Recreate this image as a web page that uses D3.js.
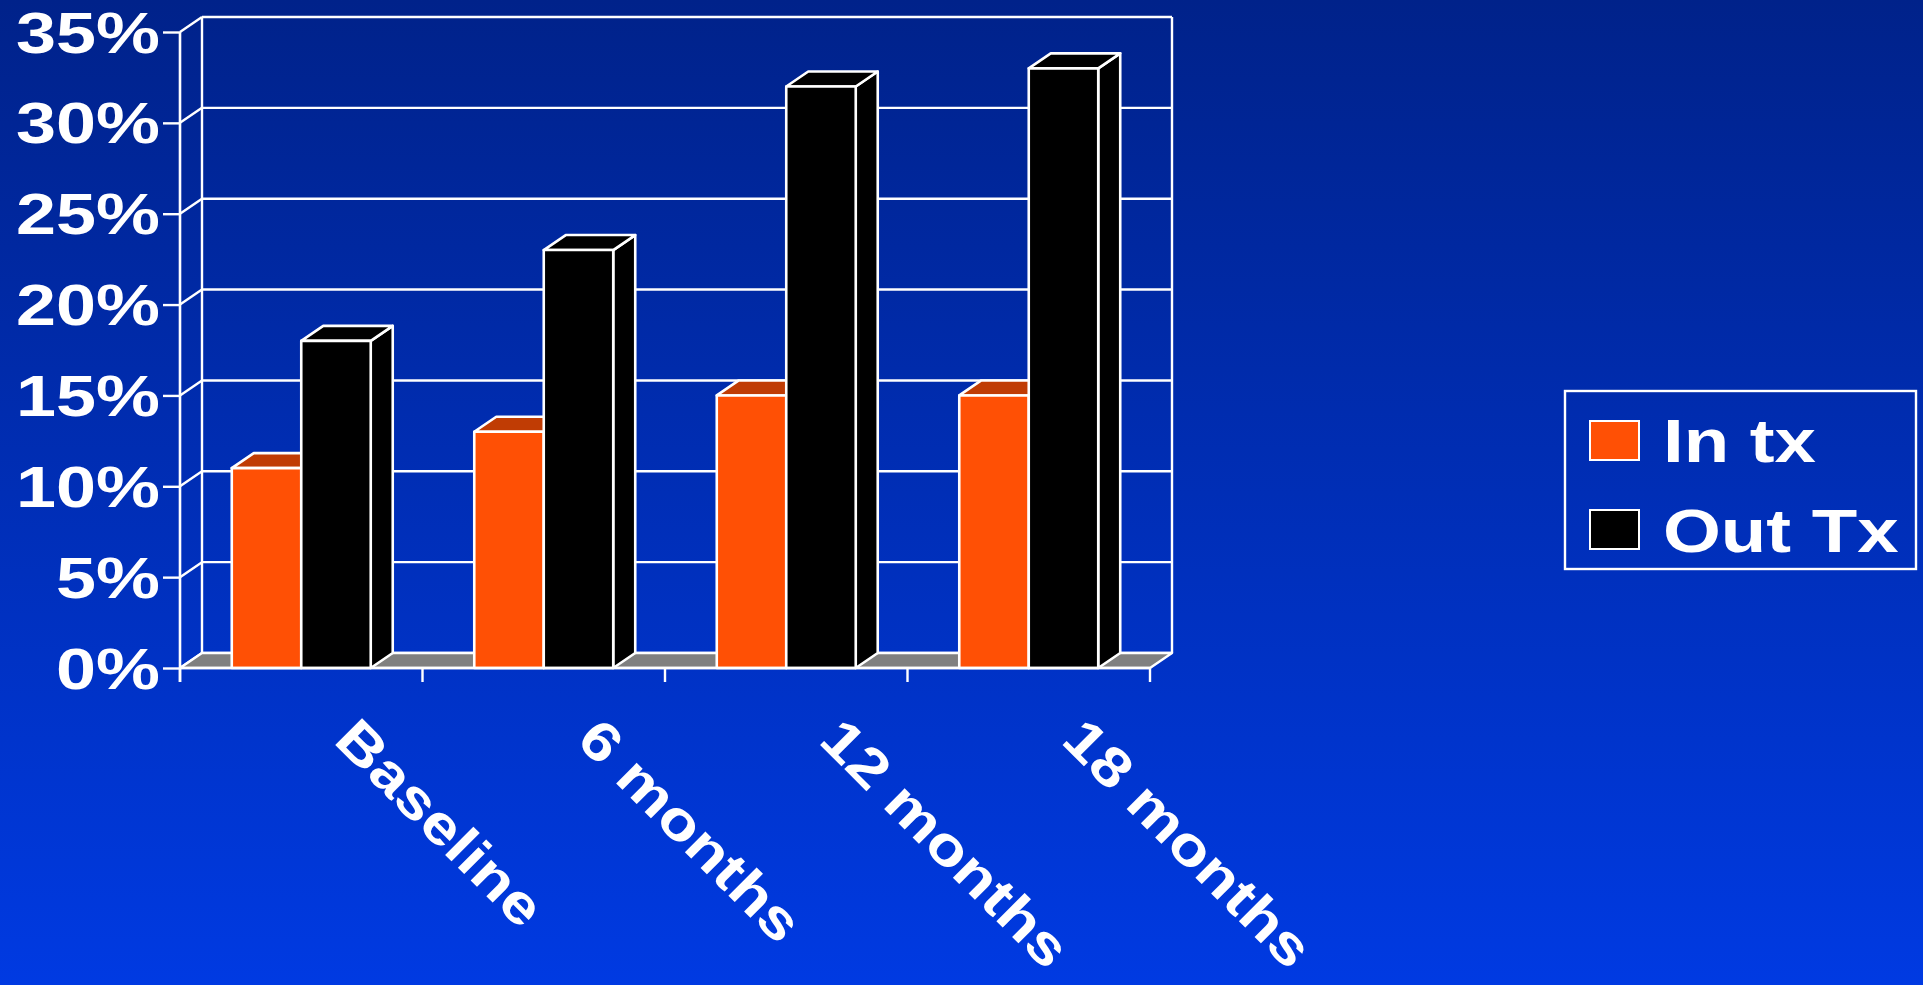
<!DOCTYPE html>
<html>
<head>
<meta charset="utf-8">
<script src="https://cdn.jsdelivr.net/npm/d3@7"></script>
<style>
  html, body { margin: 0; padding: 0; overflow: hidden; }
  svg { display: block; }
  text { font-family: "Liberation Sans", Arial, sans-serif; font-weight: bold; fill: #fff; }
</style>
</head>
<body>
<svg id="chart" width="1923" height="985"></svg>
<script>
// Share of patients, by follow-up point, in and out of treatment
const categories = ["Baseline", "6 months", "12 months", "18 months"];
const seriesNames = ["In tx", "Out Tx"];
const inTx = [11, 13, 15, 15];
const outTx = [18, 23, 32, 33];
const yTickValues = [0, 5, 10, 15, 20, 25, 30, 35];

const seriesValues = [inTx, outTx];
const colors = { front: ["#FF5005", "#000000"], top: ["#C03C04", "#000000"], side: ["#B03504", "#000000"] };

const W = 1923, H = 985;
const svg = d3.select("#chart");

// background gradient
const defs = svg.append("defs");
const grad = defs.append("linearGradient").attr("id", "bg").attr("x1", 0).attr("y1", 0).attr("x2", 0).attr("y2", 1);
grad.append("stop").attr("offset", "0%").attr("stop-color", "#00228A");
grad.append("stop").attr("offset", "100%").attr("stop-color", "#003AE2");
svg.append("rect").attr("width", W).attr("height", H).attr("fill", "url(#bg)");

// plot frame and depth offset of the 3-D box
const left = 180, right = 1150;
const dx = 22, dy = -15;

const y = d3.scaleLinear().domain([0, 35]).range([668, 32]);
const x0 = d3.scaleBand().domain(categories).range([left, right]).paddingInner(0).paddingOuter(0);
const x1 = d3.scaleBand().domain(seriesNames).range([0, x0.bandwidth()]).paddingInner(0).paddingOuter(0.745);

const line = "#FFFFFF";
const g = svg.append("g");

// back wall gridlines
g.selectAll("line.grid").data(yTickValues).join("line")
  .attr("class", "grid")
  .attr("x1", left + dx).attr("x2", right + dx)
  .attr("y1", d => y(d) + dy).attr("y2", d => y(d) + dy)
  .attr("stroke", line).attr("stroke-width", 2.4);

// side wall connectors
g.selectAll("line.conn").data(yTickValues).join("line")
  .attr("class", "conn")
  .attr("x1", left).attr("x2", left + dx)
  .attr("y1", d => y(d)).attr("y2", d => y(d) + dy)
  .attr("stroke", line).attr("stroke-width", 2.4);

// wall verticals
g.append("line").attr("x1", left + dx).attr("x2", left + dx)
  .attr("y1", y(35) + dy).attr("y2", y(0) + dy).attr("stroke", line).attr("stroke-width", 2.4);
g.append("line").attr("x1", right + dx).attr("x2", right + dx)
  .attr("y1", y(35) + dy).attr("y2", y(0) + dy).attr("stroke", line).attr("stroke-width", 2.4);

// floor
g.append("path")
  .attr("d", `M${left},${y(0)}L${left + dx},${y(0) + dy}L${right + dx},${y(0) + dy}L${right},${y(0)}Z`)
  .attr("fill", "#808080").attr("stroke", line).attr("stroke-width", 2.4).attr("stroke-linejoin", "round");

// bars
const bars = g.append("g");
categories.forEach((cat, i) => {
  seriesNames.forEach((s, k) => {
    const v = seriesValues[k][i];
    const bx = x0(cat) + x1(s), w = x1.bandwidth();
    const yt = y(v), yb = y(0);
    const bg = bars.append("g").attr("stroke", line).attr("stroke-width", 2.6).attr("stroke-linejoin", "round");
    bg.append("path")
      .attr("d", `M${bx + w},${yt}L${bx + w + dx},${yt + dy}L${bx + w + dx},${yb + dy}L${bx + w},${yb}Z`)
      .attr("fill", colors.side[k]);
    bg.append("path")
      .attr("d", `M${bx},${yt}L${bx + dx},${yt + dy}L${bx + w + dx},${yt + dy}L${bx + w},${yt}Z`)
      .attr("fill", colors.top[k]);
    bg.append("rect")
      .attr("x", bx).attr("y", yt).attr("width", w).attr("height", yb - yt)
      .attr("fill", colors.front[k]);
  });
});

// front floor edge
g.append("line").attr("x1", left).attr("x2", right).attr("y1", y(0)).attr("y2", y(0))
  .attr("stroke", line).attr("stroke-width", 2.6);

// y axis
const yAxis = d3.axisLeft(y).tickValues(yTickValues).tickSize(17).tickFormat(d => d + "%");
const ya = svg.append("g").attr("transform", `translate(${left},0)`).call(yAxis);
ya.select(".domain").remove();
ya.selectAll(".tick line").attr("stroke", line).attr("stroke-width", 2.4);
ya.selectAll(".tick text")
  .attr("x", null).attr("dy", null)
  .attr("transform", `translate(-20,20) scale(1.24,1)`)
  .attr("text-anchor", "end")
  .style("font-size", "58px").style("font-family", "Liberation Sans, Arial, sans-serif")
  .style("font-weight", "bold").attr("fill", "#fff");
svg.append("line").attr("x1", left).attr("x2", left).attr("y1", y(35)).attr("y2", y(0) + 14)
  .attr("stroke", line).attr("stroke-width", 2.6);

// category boundary ticks
const bounds = categories.map(c => x0(c)).concat([right]);
svg.selectAll("line.ctick").data(bounds).join("line")
  .attr("class", "ctick")
  .attr("x1", d => d).attr("x2", d => d).attr("y1", y(0)).attr("y2", y(0) + 14)
  .attr("stroke", line).attr("stroke-width", 2.4);

// x axis labels
const xAxis = d3.axisBottom(x0).tickSize(0);
const xa = svg.append("g").attr("transform", `translate(0,${y(0)})`).call(xAxis);
xa.select(".domain").remove();
xa.selectAll(".tick text")
  .attr("y", null).attr("dy", null)
  .attr("transform", `translate(31,74) rotate(45) scale(1.18,1)`)
  .attr("text-anchor", "start")
  .style("font-size", "55px").style("font-family", "Liberation Sans, Arial, sans-serif")
  .style("font-weight", "bold").attr("fill", "#fff");

// legend
const lg = svg.append("g");
lg.append("rect").attr("x", 1565).attr("y", 391).attr("width", 351).attr("height", 178)
  .attr("fill", "none").attr("stroke", line).attr("stroke-width", 2.4);
const legendRows = [{ y: 421, base: 462 }, { y: 510, base: 552 }];
seriesNames.forEach((s, k) => {
  lg.append("rect").attr("x", 1590).attr("y", legendRows[k].y).attr("width", 49).attr("height", 39)
    .attr("fill", colors.front[k]).attr("stroke", line).attr("stroke-width", 2);
  lg.append("text")
    .attr("transform", `translate(1663,${legendRows[k].base}) scale(1.2,1)`)
    .style("font-size", "62px")
    .text(s);
});
</script>
</body>
</html>
